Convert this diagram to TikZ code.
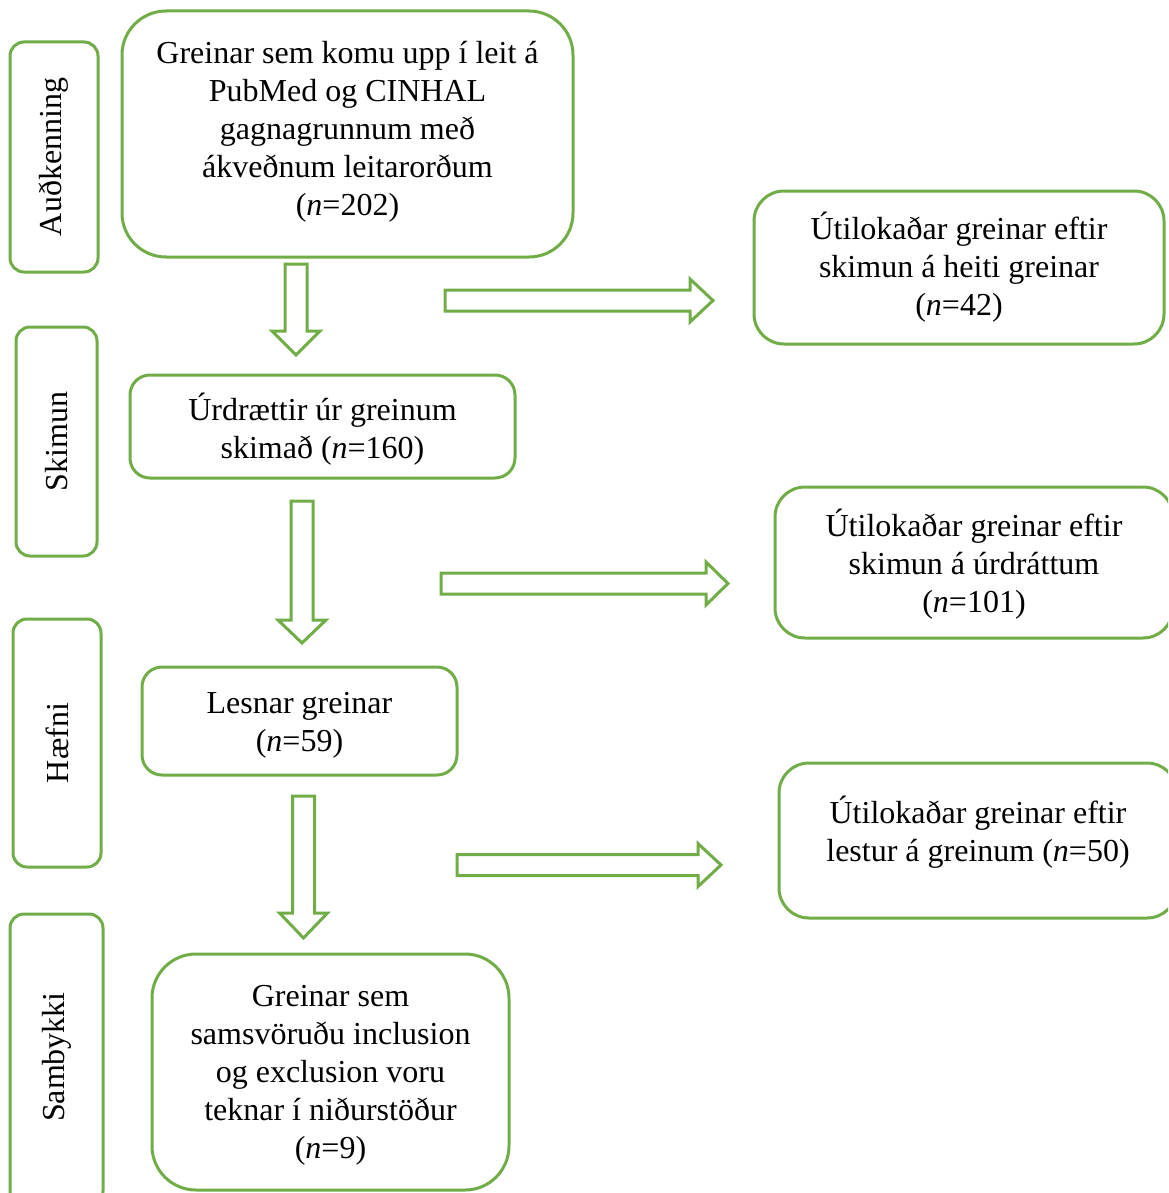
\documentclass[tikz,border=0pt]{standalone}
\usepackage{fontspec}
\setmainfont{Liberation Serif}
\definecolor{grn}{RGB}{112,173,71}
\newcommand\dnarrow[4]{% cx, y0, y1, y2
  \draw[blockarr] (#1-11,#2) -- (#1+11,#2) -- (#1+11,#3) -- (#1+24,#3) -- (#1,#4) -- (#1-24,#3) -- (#1-11,#3) -- cycle;}
\newcommand\rtarrow[4]{% cy, x0, x1, x2
  \draw[blockarr] (#2,#1-10.5) -- (#3,#1-10.5) -- (#3,#1-21.5) -- (#4,#1) -- (#3,#1+21.5) -- (#3,#1+10.5) -- (#2,#1+10.5) -- cycle;}
\newcommand\shiftlines[2]{\raisebox{\dimexpr#1-4pt\relax}[0pt][0pt]{\begin{tabular}{@{}c@{}}#2\end{tabular}}}
\begin{document}
\begin{tikzpicture}[x=0.5pt,y=-0.5pt,
  box/.style={draw=grn, line width=1.5pt, fill=white, align=center, inner sep=0pt,
    font=\fontsize{16}{19}\selectfont},
  side/.style={box, rotate=90, rounded corners=7pt},
  blockarr/.style={draw=grn, line width=1.5pt, fill=white, line join=miter}]
\useasboundingbox (0,0) rectangle (1168,1193);
\clip (0,0) rectangle (1168,1193);
% side labels
\node[side, minimum width=115pt, minimum height=44pt] (s1) at (54,157) {Auðkenning};
\node[side, minimum width=114.5pt, minimum height=40.5pt] (s2) at (56.5,441.5) {Skimun};
\node[side, minimum width=124pt, minimum height=44pt] (s3) at (57,743) {Hæfni};
\node[side, minimum width=145.5pt, minimum height=46.5pt] (s4) at (56.5,1059.5) {};
\node[rotate=90, font=\fontsize{16}{19}\selectfont] (s4t) at (56.5,1057) {Sambykki};
% main boxes
\node[box, rounded corners=22pt, minimum width=225.5pt, minimum height=123pt] (b1) at (347.5,134)
  {\shiftlines{0.5pt}{Greinar sem komu upp í leit á\\PubMed og CINHAL\\gagnagrunnum með\\ákveðnum leitarorðum\\(\textit{n}=202)}};
\node[box, rounded corners=10pt, minimum width=192.5pt, minimum height=51.5pt] (b2) at (322.5,426.5)
  {\shiftlines{-3pt}{Úrdrættir úr greinum\\skimað (\textit{n}=160)}};
\node[box, rounded corners=10pt, minimum width=157.5pt, minimum height=54pt] (b3) at (299.5,721)
  {\shiftlines{-2.5pt}{Lesnar greinar\\(\textit{n}=59)}};
\node[box, rounded corners=22pt, minimum width=178.5pt, minimum height=118pt] (b4) at (330.5,1072)
  {\shiftlines{-2pt}{Greinar sem\\samsvöruðu inclusion\\og exclusion voru\\teknar í niðurstöður\\(\textit{n}=9)}};
% right boxes
\node[box, rounded corners=15pt, minimum width=205pt, minimum height=76.5pt] (r1) at (959,267.5)
  {\shiftlines{-1.5pt}{Útilokaðar greinar eftir\\skimun á heiti greinar\\(\textit{n}=42)}};
\node[box, rounded corners=15pt, minimum width=199pt, minimum height=75.5pt] (r2) at (974,562.5)
  {\shiftlines{-2.5pt}{Útilokaðar greinar eftir\\skimun á úrdráttum\\(\textit{n}=101)}};
\node[box, rounded corners=15pt, minimum width=199pt, minimum height=77.5pt] (r3) at (978,840.5)
  {\shiftlines{2.5pt}{Útilokaðar greinar eftir\\lestur á greinum (\textit{n}=50)}};
% block arrows
\dnarrow{296}{264}{331}{355}
\dnarrow{302}{501}{620}{643}
\dnarrow{303.5}{796}{913}{938}
\rtarrow{300.5}{445}{690}{713}
\rtarrow{583.5}{441}{706}{728}
\rtarrow{865}{457}{698}{721}
\end{tikzpicture}
\end{document}
